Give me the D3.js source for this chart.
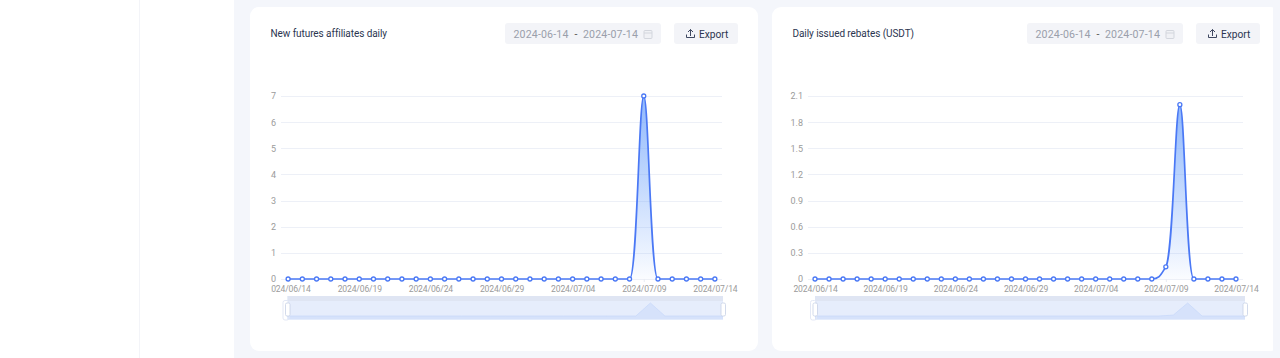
<!DOCTYPE html>
<html>
<head>
<meta charset="utf-8">
<script src="https://cdn.jsdelivr.net/npm/d3@7"></script>
<style>
  html, body { margin: 0; padding: 0; background: #fff; overflow: hidden; }
  svg { display: block; }
  text { font-family: Roboto, "Noto Sans", sans-serif; }
  .title { font-size: 10px; fill: #2b3550; letter-spacing: -0.07px; }
  .date { font-size: 10.6px; fill: #9a9fab; letter-spacing: 0.15px; }
  .export { font-size: 10.2px; fill: #2b3550; }
  .y_axis text { font-size: 9px; fill: #9b9b9b; }
  .x_axis text { font-size: 8.6px; fill: #9b9b9b; letter-spacing: -0.15px; }
  .y_axis path, .y_axis line, .x_axis path { display: none; }
  .x_axis line { stroke: #e8ebf2; }
  .grid line { stroke: #edf0f7; stroke-width: 1; }
</style>
</head>
<body>
<svg id="chart" width="1280" height="358"></svg>
<script>
// 2024/06/14 .. 2024/07/14
let dates = ["2024/06/14","2024/06/15","2024/06/16","2024/06/17","2024/06/18","2024/06/19","2024/06/20",
  "2024/06/21","2024/06/22","2024/06/23","2024/06/24","2024/06/25","2024/06/26","2024/06/27","2024/06/28",
  "2024/06/29","2024/06/30","2024/07/01","2024/07/02","2024/07/03","2024/07/04","2024/07/05","2024/07/06",
  "2024/07/07","2024/07/08","2024/07/09","2024/07/10","2024/07/11","2024/07/12","2024/07/13","2024/07/14"]
let x_ticks = ["2024/06/14","2024/06/19","2024/06/24","2024/06/29","2024/07/04","2024/07/09","2024/07/14"]

let affiliates = [0,0,0,0,0,0,0,0,0,0,0,0,0,0,0,0,0,0,0,0,0,0,0,0,0,7,0,0,0,0,0]
let affiliates_ticks = [0,1,2,3,4,5,6,7]

let rebates = [0,0,0,0,0,0,0,0,0,0,0,0,0,0,0,0,0,0,0,0,0,0,0,0,0,0.14,2.0,0,0,0,0]
let rebates_ticks = [0,0.3,0.6,0.9,1.2,1.5,1.8,2.1]

let svg = d3.select("#chart")
let blue = "#4a78f5"

function draw_page() {
  svg.append("rect").attr("x", 139).attr("y", 0).attr("width", 1).attr("height", 358).attr("fill", "#f3f4f8")
  svg.append("rect").attr("x", 234).attr("y", 0).attr("width", 1046).attr("height", 358).attr("fill", "#f4f6fb")

  let grad = svg.append("defs").append("linearGradient")
    .attr("id", "area_fill")
    .attr("x1", 0).attr("y1", 0).attr("x2", 0).attr("y2", 1)
  grad.append("stop").attr("offset", "0%").attr("stop-color", "#6aa0fb").attr("stop-opacity", 0.75)
  grad.append("stop").attr("offset", "100%").attr("stop-color", "#6aa0fb").attr("stop-opacity", 0.03)
}

function draw_header(g, left, right, title) {
  g.append("text").attr("class", "title").attr("x", left + 20.5).attr("y", 37).text(title)

  // date picker
  let px = right - 253
  g.append("rect").attr("x", px).attr("y", 23).attr("width", 156).attr("height", 21).attr("rx", 3).attr("fill", "#f3f4f8")
  g.append("text").attr("class", "date").attr("x", px + 8.5).attr("y", 37.5).text("2024-06-14")
  g.append("text").attr("class", "date").attr("x", px + 69.5).attr("y", 37.5).style("fill", "#555").text("-")
  g.append("text").attr("class", "date").attr("x", px + 78).attr("y", 37.5).text("2024-07-14")
  g.append("rect").attr("x", px + 139).attr("y", 30.5).attr("width", 8).attr("height", 8).attr("rx", 1)
    .attr("fill", "#f0f1f5").attr("stroke", "#d3d6dd")
  g.append("line").attr("x1", px + 139).attr("x2", px + 147).attr("y1", 33).attr("y2", 33).attr("stroke", "#d3d6dd")

  // export button
  let bx = right - 84
  g.append("rect").attr("x", bx).attr("y", 23).attr("width", 64).attr("height", 21).attr("rx", 3).attr("fill", "#f3f4f8")
  g.append("path")
    .attr("d", `M${bx + 12.5} 34.5v3h8v-3M${bx + 16.5} 36v-6.5M${bx + 14} 32l2.5-2.5 2.5 2.5`)
    .attr("fill", "none").attr("stroke", "#2b3550").attr("stroke-width", 0.9)
  g.append("text").attr("class", "export").attr("x", bx + 25).attr("y", 37.5).text("Export")
}

function make_scales(ticks, plot) {
  return {
    x: d3.scalePoint().domain(dates).range([plot.left, plot.right]).padding(0.5),
    y: d3.scaleLinear().domain([ticks[0], ticks[ticks.length - 1]]).range([plot.bottom, plot.top])
  }
}

function draw_axes(g, scales, ticks, plot, clip_id) {
  g.append("g").attr("class", "grid")
    .selectAll("line")
    .data(ticks).enter()
    .append("line")
    .attr("x1", plot.left).attr("x2", plot.right)
    .attr("y1", d => Math.round(scales.y(d)) + 0.5)
    .attr("y2", d => Math.round(scales.y(d)) + 0.5)

  g.append("g").attr("class", "y_axis")
    .attr("transform", `translate(${plot.left - 1}, 0)`)
    .call(d3.axisLeft(scales.y).tickValues(ticks).tickSize(0).tickPadding(4).tickFormat(d => d))

  // first label of the left card is cut by the canvas edge, so clip on a wrapper
  g.append("g").attr("clip-path", `url(#${clip_id})`)
    .append("g").attr("class", "x_axis")
    .attr("transform", `translate(0, ${plot.bottom})`)
    .call(d3.axisBottom(scales.x).tickValues(x_ticks).tickSize(3).tickPadding(3.5))
}

// the reference's smoothing: long handle on the low end of a rise, short one on the high end
function bell_path(values, scales, base) {
  let pts = values.map((d, i) => [scales.x(dates[i]), scales.y(d)])
  let step = scales.x.step()
  let slope = i => {
    if (i == 0 || i == pts.length - 1) return 0
    let s0 = (pts[i][1] - pts[i - 1][1]) / step
    let s1 = (pts[i + 1][1] - pts[i][1]) / step
    return s0 * s1 <= 0 ? 0 : 2 * s0 * s1 / (s0 + s1)
  }
  let p = d3.path()
  p.moveTo(pts[0][0], pts[0][1])
  for (let i = 1; i < pts.length; i++) {
    let rising = pts[i][1] < pts[i - 1][1]
    let h0 = step * (rising ? 0.55 : 0.35)
    let h1 = step * (rising ? 0.35 : 0.55)
    p.bezierCurveTo(pts[i - 1][0] + h0, pts[i - 1][1] + h0 * slope(i - 1),
      pts[i][0] - h1, pts[i][1] - h1 * slope(i),
      pts[i][0], pts[i][1])
  }
  if (base !== undefined) {
    p.lineTo(pts[pts.length - 1][0], base)
    p.lineTo(pts[0][0], base)
    p.closePath()
  }
  return p.toString()
}

function draw_series(g, values, scales) {
  g.append("path").attr("d", bell_path(values, scales, scales.y(0))).attr("fill", "url(#area_fill)")
  g.append("path").attr("d", bell_path(values, scales)).attr("fill", "none").attr("stroke", blue).attr("stroke-width", 1.7)

  g.append("g")
    .selectAll("circle")
    .data(values).enter()
    .append("circle")
    .attr("cx", (d, i) => scales.x(dates[i]))
    .attr("cy", d => scales.y(d))
    .attr("r", 2)
    .attr("fill", "#fff")
    .attr("stroke", blue)
    .attr("stroke-width", 1.3)
}

function draw_slider(g, values, slider) {
  let w = slider.right - slider.left
  let x = d3.scalePoint().domain(dates).range([slider.left, slider.right])
  let y = d3.scaleLinear().domain([0, d3.max(values)]).range([slider.bottom - 3.5, slider.top + 7])

  g.append("rect").attr("x", slider.left).attr("y", slider.top).attr("width", w).attr("height", slider.bottom - slider.top).attr("fill", "#e6edfc")
  g.append("rect").attr("x", slider.left).attr("y", slider.top).attr("width", w).attr("height", 5).attr("fill", "#dfe5f3")

  let area = d3.area()
    .x((d, i) => x(dates[i]))
    .y0(slider.bottom)
    .y1(d => y(d))
  g.append("path").attr("d", area(values)).attr("fill", "#d6e2fb")
  g.append("path").attr("d", d3.line().x((d, i) => x(dates[i])).y(d => y(d))(values))
    .attr("fill", "none").attr("stroke", "#c9d9fa").attr("stroke-width", 0.8)

  g.append("rect").attr("x", slider.left - 4.5).attr("y", slider.top + 4.5).attr("width", 6).attr("height", slider.bottom - slider.top - 4)
    .attr("rx", 2).attr("fill", "none").attr("stroke", "#e3e8f5")
  g.selectAll("rect.handle")
    .data([slider.left, slider.right]).enter()
    .append("rect")
    .attr("class", "handle")
    .attr("x", d => d - 2)
    .attr("y", slider.top + 7)
    .attr("width", 4.5)
    .attr("height", 13)
    .attr("rx", 1.5)
    .attr("fill", "#fff")
    .attr("stroke", "#c6d0e6")
    .attr("stroke-width", 0.8)
}

function visualize() {
  draw_page()
  let panels = [
    { left: 250, title: "New futures affiliates daily", values: affiliates, ticks: affiliates_ticks,
      plot: {left: 281, right: 722, top: 96, bottom: 279}, slider: {left: 287.5, right: 723, top: 296, bottom: 319.5} },
    { left: 772, title: "Daily issued rebates (USDT)", values: rebates, ticks: rebates_ticks,
      plot: {left: 808, right: 1243, top: 96, bottom: 279}, slider: {left: 815, right: 1245, top: 296, bottom: 319.5} }
  ]
  panels.forEach(p => {
    let g = svg.append("g")
    g.append("rect").attr("x", p.left).attr("y", 7).attr("width", 508).attr("height", 344)
      .attr("rx", 9).attr("fill", "#fff")
    let clip_id = "clip_" + p.left
    svg.select("defs").append("clipPath").attr("id", clip_id)
      .append("rect").attr("x", p.left + 21).attr("y", 270).attr("width", 520).attr("height", 30)
    draw_header(g, p.left, p.left + 508, p.title)
    let scales = make_scales(p.ticks, p.plot)
    draw_axes(g, scales, p.ticks, p.plot, clip_id)
    draw_series(g, p.values, scales)
    draw_slider(g, p.values, p.slider)
  })
  // the second card runs under the page edge strip
  svg.append("rect").attr("x", 1273).attr("y", 0).attr("width", 7).attr("height", 358).attr("fill", "#f4f6fb")
}

visualize()
</script>
</body>
</html>
